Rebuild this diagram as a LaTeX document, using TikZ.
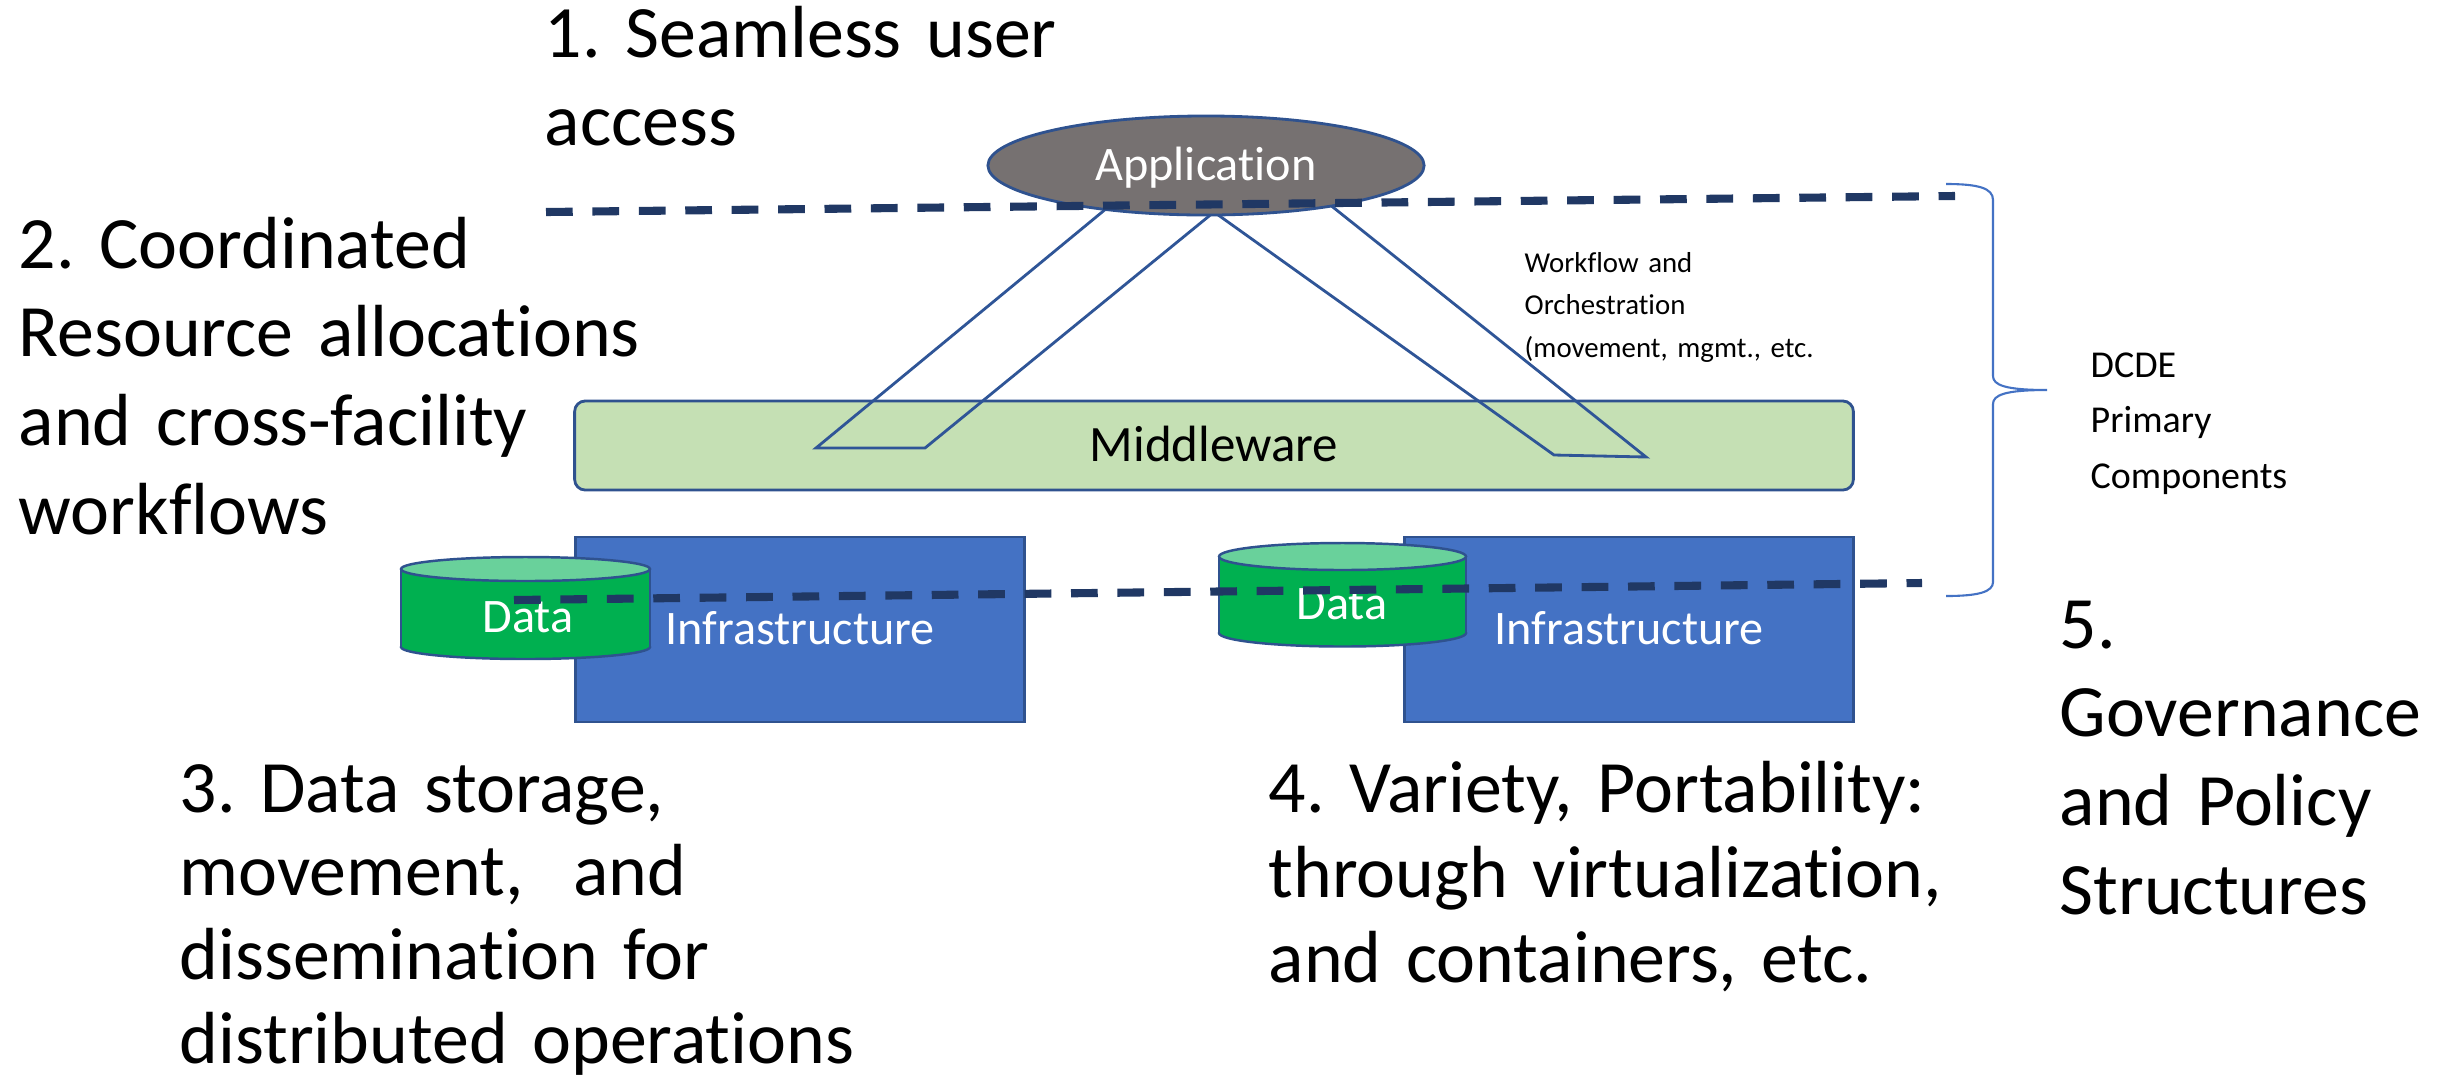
\documentclass[tikz,border=0pt]{standalone}
\usepackage{fontspec}
\setmainfont{Carlito}[Ligatures=NoCommon]
\usetikzlibrary{shapes.geometric}
\frenchspacing

\definecolor{tiernavy}{HTML}{203864}
\definecolor{appgray}{HTML}{767171}
\definecolor{edgeblue}{HTML}{2F528F}
\definecolor{midgreen}{HTML}{C5E0B4}
\definecolor{infrablue}{HTML}{4472C4}
\definecolor{drumgreen}{HTML}{00B050}
\definecolor{drumtop}{HTML}{69D19B}
\definecolor{flowblue}{HTML}{2F5597}

\tikzset{
  tierline/.style={line width=2.3pt, color=tiernavy, dash pattern=on 7.6pt off 5.6pt},
  appshape/.style={ellipse, draw=edgeblue, fill=appgray, line width=0.8pt, minimum width=4.36cm, minimum height=0.99cm, inner sep=0pt, text=white, font=\fontsize{13.7}{16}\selectfont, text height=8.8pt, text depth=0pt},
  midbox/.style={rectangle, rounded corners=3pt, draw=edgeblue, fill=midgreen, line width=0.8pt, minimum width=12.78cm, minimum height=0.89cm, inner sep=0pt, font=\fontsize{14.5}{17}\selectfont, text height=9.3pt, text depth=0pt},
  infrabox/.style={rectangle, draw=edgeblue, fill=infrablue, line width=0.8pt, minimum width=4.49cm, minimum height=1.85cm, inner sep=0pt, text=white, font=\fontsize{13.7}{16}\selectfont, text height=8.8pt, text depth=0pt},
  drumedge/.style={draw=edgeblue, line width=0.7pt},
  drumlabel/.style={inner sep=0pt, text=white, font=\fontsize{13.7}{16}\selectfont, text height=8.8pt, text depth=0pt},
  flowline/.style={color=flowblue, line width=0.8pt},
  bracket/.style={color=infrablue, line width=0.6pt},
  goal/.style={anchor=base west, inner sep=0pt, align=left, text width=8cm, font=\fontsize{21}{25.3}\selectfont},
  sidenote/.style={anchor=base west, inner sep=0pt, align=left, text width=4cm},
}

% centre x, top y, bottom y, x radius, y radius
\newcommand{\drawdrum}[5]{%
  \filldraw[drumedge, fill=drumgreen] (#1,#3) ellipse [x radius=#4, y radius=#5];
  \fill[drumgreen] (#1-#4,#2) rectangle (#1+#4,#3);
  \draw[drumedge] (#1-#4,#2) -- (#1-#4,#3) (#1+#4,#2) -- (#1+#4,#3);
  \filldraw[drumedge, fill=drumtop] (#1,#2) ellipse [x radius=#4, y radius=#5];
}

\begin{document}
\begin{tikzpicture}[x=0.01cm, y=-0.01cm]
        \useasboundingbox[fill=white] (0,0) rectangle (2437,1084);

        \node[infrabox] (infraleft) at (800,629.5) {Infrastructure};
        \node[infrabox] (infraright) at (1629,629.5) {Infrastructure};

        \drawdrum{525.5}{569}{647}{124.5}{12}
        \drawdrum{1342.5}{556.5}{633}{123.5}{13.5}
        \node[drumlabel] (dataleft) at (528,617.5) {Data};
        \node[drumlabel] (dataright) at (1342,604.5) {Data};

        \node[midbox] (middleware) at (1214,445.5) {Middleware};

        \draw[flowline] (1107,208) -- (816,448) -- (925,448) -- (1214,212)
              -- (1554,455) -- (1646,457) -- (1329,204);

        \node[appshape] (app) at (1206,165.5) {Application};

        \draw[tierline] (546,212) -- (1955,196);
        \draw[tierline] (514,600) -- (1922,583);

        \draw[bracket] (1946,184) .. controls (1978,184) and (1993,188) .. (1993,200)
              -- (1993,376) .. controls (1993,385) and (2005,390) .. (2047,390)
              .. controls (2005,390) and (1993,395) .. (1993,404)
              -- (1993,582) .. controls (1993,592) and (1978,596) .. (1946,596);

        \node[sidenote, font=\fontsize{8.2}{12.2}\selectfont] (flownote) at (1524,272)
              {Workflow and\\Orchestration\\(movement, mgmt., etc.};
        \node[sidenote, font=\fontsize{10.8}{15.8}\selectfont] (dcdenote) at (2090,377)
              {DCDE\\Primary\\Components};

        \node[goal] (goalaccess) at (544,57) {1. Seamless user\\access};
        \node[goal] (goalcoord) at (18,268) {2. Coordinated\\Resource allocations\\and cross-facility\\workflows};
        \node[goal, font=\fontsize{21}{23.8}\selectfont] (goalstorage) at (179,812)
              {3. Data storage,\\movement,~ and\\dissemination for\\distributed operations};
        \node[goal, font=\fontsize{21}{24.2}\selectfont] (goalvariety) at (1268,812)
              {4. Variety, Portability:\\through virtualization,\\and containers, etc.};
        \node[goal] (goalgovern) at (2059,648) {5.\\Governance\\and Policy\\Structures};
\end{tikzpicture}
\end{document}
